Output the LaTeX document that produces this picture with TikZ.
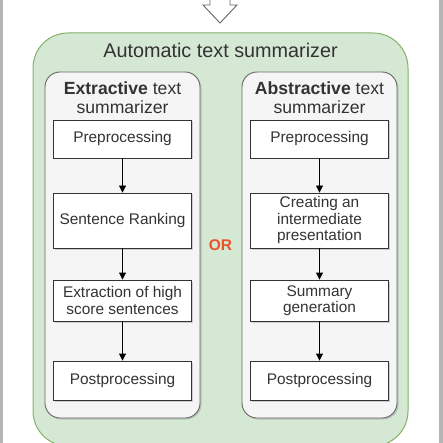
\documentclass[tikz,border=0pt]{standalone}
\usepackage{fontspec}
\setmainfont{Liberation Sans}
\usetikzlibrary{arrows.meta,shadows}
\definecolor{grnfill}{HTML}{D5E8D4}
\definecolor{grnline}{HTML}{82B366}
\definecolor{panfill}{HTML}{F5F5F5}
\definecolor{panline}{HTML}{666666}
\definecolor{txt}{HTML}{333333}
\definecolor{orred}{HTML}{E8542A}
\definecolor{sidebar}{HTML}{B4B4B4}
\tikzset{
  panel/.style={draw=panline, fill=panfill, line width=0.9pt, rounded corners=15pt,
    drop shadow={shadow xshift=1.5pt, shadow yshift=-1.5pt, opacity=0.35}},
  stepbox/.style={draw=black!80, fill=white, line width=0.9pt, minimum width=138pt,
    align=center, font=\fontsize{15.4}{16.5}\selectfont, text=txt, inner sep=2pt,
    drop shadow={shadow xshift=1.5pt, shadow yshift=-1.5pt, opacity=0.35}},
  flow/.style={draw=black, line width=0.9pt, -{Triangle[width=7pt,length=7pt]}}
}
\begin{document}
\begin{tikzpicture}[x=1pt,y=-1pt]
\useasboundingbox (0,0) rectangle (443,443);
\fill[white] (0,0) rectangle (443,443);
\begin{scope}
\clip (0,0) rectangle (443,443);
\fill[sidebar] (0,0) rectangle (3,443);
\fill[sidebar] (439,0) rectangle (443,443);
% input arrow
\draw[panline, fill=white, line width=0.9pt, line join=miter]
  (210,-2) -- (210,5) -- (203,5) -- (220,23) -- (237,5) -- (230,5) -- (230,-2);
% outer container
\draw[grnline, fill=grnfill, line width=1pt, rounded corners=35pt]
  (33,33) rectangle (408,446);
\end{scope}
\node[text=txt, font=\fontsize{19.8}{21}\selectfont] (title) at (220.5,50) {Automatic text summarizer};
% panels
\draw[panel] (45,72) rectangle (200,418);
\draw[panel] (242,72) rectangle (397,418);
\node[text=txt, align=center, font=\fontsize{17.6}{19}\selectfont] (lt) at (122.5,98)
  {\textbf{Extractive} text\\summarizer};
\node[text=txt, align=center, font=\fontsize{17.6}{19}\selectfont] (rt) at (319.5,98)
  {\textbf{Abstractive} text\\summarizer};
% left steps
\node[stepbox, minimum height=38pt] (l1) at (122.5,139) {Preprocessing};
\node[stepbox, minimum height=55pt] (l2) at (122.5,220.5) {Sentence Ranking};
\node[stepbox, minimum height=41pt] (l3) at (122.5,300.5) {Extraction of high\\score sentences};
\node[stepbox, minimum height=39pt] (l4) at (122.5,380.5) {Postprocessing};
% right steps
\node[stepbox, minimum height=38pt] (r1) at (319.5,139) {Preprocessing};
\node[stepbox, minimum height=55pt] (r2) at (319.5,220.5) {Creating an\\intermediate\\presentation};
\node[stepbox, minimum height=41pt] (r3) at (319.5,300.5) {Summary\\generation};
\node[stepbox, minimum height=39pt] (r4) at (319.5,380.5) {Postprocessing};
\draw[flow] (l1) -- (l2);
\draw[flow] (l2) -- (l3);
\draw[flow] (l3) -- (l4);
\draw[flow] (r1) -- (r2);
\draw[flow] (r2) -- (r3);
\draw[flow] (r3) -- (r4);
\node[text=orred, font=\bfseries\fontsize{15.5}{17}\selectfont] (or) at (220.5,245) {OR};
\end{tikzpicture}
\end{document}
